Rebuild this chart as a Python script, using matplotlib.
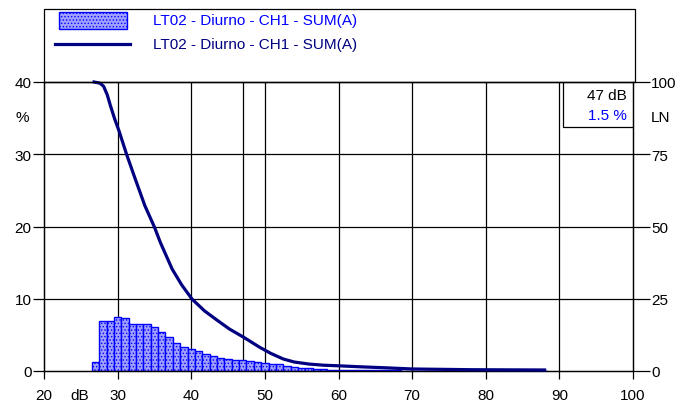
import numpy as np
import matplotlib.pyplot as plt
from matplotlib.patches import Rectangle
from matplotlib.lines import Line2D

plt.rcParams['font.family'] = ['Liberation Sans', 'DejaVu Sans']
plt.rcParams['hatch.linewidth'] = 0.6

# distribucion (%) por clase de 1 dB
bins_db = np.arange(27, 89)
pct = [1.3, 6.9, 6.9, 7.5, 7.4, 6.55, 6.55, 6.5, 6.1, 5.4, 4.75, 3.9, 3.3, 3.0,
       2.7, 2.4, 2.1, 1.8, 1.6, 1.5, 1.5, 1.45, 1.3, 1.15, 1.0, 0.9, 0.7, 0.55,
       0.45, 0.35, 0.3, 0.25, 0.2, 0.17, 0.12, 0.1, 0.1, 0.09, 0.08, 0.08, 0.07,
       0.07, 0.06, 0.06, 0.06, 0.05, 0.05, 0.05, 0.05, 0.04, 0.04, 0.04, 0.04,
       0.04, 0.03, 0.03, 0.03, 0.03, 0.03, 0.02, 0.02, 0.02]

# curva LN (%)
ln_db = [26.8, 27.6, 28.1, 28.6, 29.0, 29.6, 30.2, 31.2, 32.4, 33.7, 35.0, 35.8,
         37.4, 38.7, 40.1, 41.8, 43.5, 45.2, 47.1, 49.3, 50.8, 52.5, 54.0, 56.0,
         58.0, 60.0, 63.0, 66.0, 70.0, 78.0, 88.0]
ln_val = [100, 99.6, 98.5, 95.5, 92.0, 87.2, 83.0, 75.1, 66.4, 57.2, 49.8, 44.5,
          35.3, 29.8, 24.9, 20.8, 17.6, 14.5, 11.7, 8.2, 6.1, 4.15, 3.1, 2.4,
          2.0, 1.8, 1.45, 1.15, 0.7, 0.45, 0.35]

serie = "LT02 - Diurno - CH1 - SUM(A)"
cursor_db, cursor_pct = 47, 1.5

fig = plt.figure(figsize=(6.89, 4.10), dpi=100)
ax = fig.add_axes([44/689, 38/410, 589/689, 289/410])
ax2 = ax.twinx()

for x in range(30, 100, 10):
    ax.axvline(x, color='black', lw=0.9, zorder=0)
ax.axvline(cursor_db, color='black', lw=0.9, zorder=0)
for y in [10, 20, 30]:
    ax.axhline(y, color='black', lw=0.9, zorder=0)

ax.bar(bins_db, pct, width=1.0, facecolor='#a0a0ff', edgecolor='#0000ff',
       hatch='.....', lw=1.0, zorder=2)

ax2.plot(ln_db, ln_val, color='#000080', lw=2.3, zorder=3, clip_on=False)

ax.set_xlim(20, 100)
ax.set_ylim(0, 40)
ax2.set_ylim(0, 100)
ax.set_xticks(range(20, 101, 10))
ax.set_yticks(range(0, 41, 10))
ax2.set_yticks(range(0, 101, 25))
ax.tick_params(axis='both', direction='out', length=8, width=0.9, labelsize=11, pad=1)
ax.tick_params(axis='x', length=6, pad=6)
ax2.tick_params(axis='y', direction='out', length=12, width=0.9, labelsize=11, pad=1)
for sp in ax.spines.values():
    sp.set_linewidth(0.9)
for sp in ax2.spines.values():
    sp.set_linewidth(0.9)

fig.text(22/689, 1 - 118/410, "%", fontsize=11, ha='center', va='center')
fig.text(660/689, 1 - 118/410, "LN", fontsize=11, ha='center', va='center')
fig.text(80/689, 1 - 396/410, "dB", fontsize=11, ha='center', va='center')

# caja del cursor
ax.add_patch(Rectangle((563/689, 1 - 128/410), 70/689, 45/410, transform=fig.transFigure,
                       facecolor='white', edgecolor='black', lw=0.9, zorder=5))
fig.text(627/689, 1 - 96/410, f"{cursor_db} dB", fontsize=11, ha='right', va='center', zorder=6)
fig.text(627/689, 1 - 116/410, f"{cursor_pct} %", fontsize=11, ha='right', va='center',
         color='#0000ff', zorder=6)

# leyenda
fig.patches.append(Rectangle((44/689, 1 - 83/410), 591/689, 73/410, transform=fig.transFigure,
                             facecolor='none', edgecolor='black', lw=0.9))
fig.patches.append(Rectangle((59/689, 1 - 30/410), 68/689, 17/410, transform=fig.transFigure,
                             facecolor='#a0a0ff', edgecolor='#0000ff', hatch='.....', lw=1.0))
fig.lines.append(Line2D([55/689, 130/689], [1 - 45/410, 1 - 45/410], transform=fig.transFigure,
                        color='#000080', lw=2.3))
fig.text(153/689, 1 - 21/410, serie, fontsize=11, color='#0000ff', va='center')
fig.text(153/689, 1 - 45/410, serie, fontsize=11, color='#000080', va='center')

fig.savefig("out.png", dpi=100)
